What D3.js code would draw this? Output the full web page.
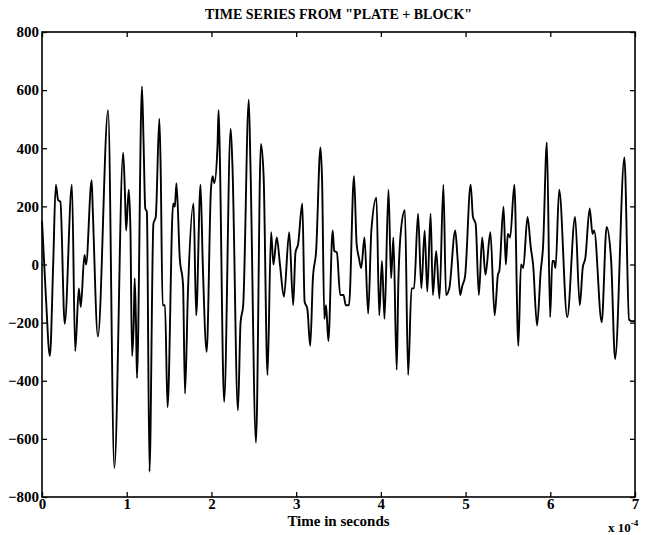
<!DOCTYPE html>
<html>
<head>
<meta charset="utf-8">
<script src="https://cdn.jsdelivr.net/npm/d3@7"></script>
<style>
  html, body { margin: 0; padding: 0; background: #fff; }
  svg { display: block; }
  text { font-family: "Liberation Serif", "DejaVu Serif", serif; fill: #000; }
</style>
</head>
<body>
<svg id="chart" width="648" height="535"></svg>
<script>
// ---- data (time in units of 1e-4 s, amplitude) ----
const chartTitle = 'TIME SERIES FROM "PLATE + BLOCK"';
const xLabel = "Time in seconds";
const xTicks = [0, 1, 2, 3, 4, 5, 6, 7];
const yTicks = [-800, -600, -400, -200, 0, 200, 400, 600, 800];

const seriesTime = [
  0.000, 0.047, 0.093, 0.132, 0.163, 0.190, 0.217, 0.268, 0.353, 0.392,
  0.435, 0.458, 0.501, 0.520, 0.586, 0.598, 0.660, 0.780, 0.854, 0.958,
  0.978, 0.993, 1.024, 1.044, 1.063, 1.083, 1.094, 1.110, 1.121, 1.180,
  1.199, 1.219, 1.238, 1.269, 1.315, 1.343, 1.385, 1.401, 1.424, 1.452,
  1.482, 1.548, 1.568, 1.587, 1.626, 1.665, 1.688, 1.723, 1.789, 1.820,
  1.871, 1.898, 1.944, 1.994, 2.014, 2.034, 2.072, 2.084, 2.095, 2.150,
  2.227, 2.247, 2.313, 2.344, 2.375, 2.441, 2.460, 2.526, 2.584, 2.616,
  2.662, 2.704, 2.732, 2.771, 2.809, 2.856, 2.918, 2.965, 2.992, 3.023,
  3.073, 3.100, 3.132, 3.166, 3.198, 3.236, 3.287, 3.306, 3.333, 3.353,
  3.380, 3.431, 3.450, 3.481, 3.520, 3.559, 3.586, 3.624, 3.683, 3.714,
  3.741, 3.768, 3.807, 3.850, 3.888, 3.948, 3.981, 4.013, 4.043, 4.090,
  4.121, 4.148, 4.187, 4.206, 4.237, 4.284, 4.322, 4.362, 4.392, 4.439,
  4.478, 4.517, 4.548, 4.587, 4.614, 4.653, 4.692, 4.738, 4.769, 4.808,
  4.878, 4.905, 4.936, 4.960, 4.994, 5.060, 5.087, 5.119, 5.157, 5.196,
  5.235, 5.293, 5.343, 5.382, 5.398, 5.448, 5.475, 5.499, 5.526, 5.576,
  5.623, 5.654, 5.681, 5.731, 5.770, 5.797, 5.844, 5.887, 5.914, 5.960,
  5.998, 6.024, 6.043, 6.062, 6.105, 6.200, 6.293, 6.348, 6.383, 6.414,
  6.465, 6.499, 6.518, 6.607, 6.665, 6.718, 6.765, 6.875, 6.930, 6.965,
  7.000
];
const seriesValue = [
   150, -117, -315,    0,  275,  222,  216, -204,  275, -298,
   -82, -146,   33,    0,  290,  199, -248,  531, -700,  385,
   257,  117,  257,  117, -315, -199,  -47, -210, -391,  613,
   420,  193,  181, -713,  140,  164,  502,  327, -140, -140,
  -491,  210,  199,  280,   23,  -70, -444,  -93,  210, -175,
   275,    0, -300,  257,  304,  280,  409,  531,  432, -473,
   467,  350, -502, -199, -140,  567,  350, -613,  415,  304,
  -380,  111,    0,   93,    0, -111,  111, -140,   41,   70,
   210, -128, -152, -280,  -47,   47,  403,  292, -187, -140,
  -263,  117,   47,   41, -105, -105, -140, -140,  304,   70,
    23,  -12,   93, -169,  117,  230, -175,   12, -187,  257,
   -47,   93, -362,  -70,  117,  187, -380,  -82,  -82,  175,
   -82,  117,  -93,  175, -105,   47, -117,  275, -105,  -82,
   117,   23, -105,  -75,  -41,  275,  164,  140, -105,   93,
   -35,  111, -175,  -35,  -23,  199,    0,  105,   93,  275,
  -280,    0,  -12,  164,   58,    0, -210,  -23,   58,  420,
  -181,   12,   12,  -12,  257, -181,  164, -140,  -12,   23,
   193,  105,  117, -199,  129,   15, -325,  368, -190, -195,
  -195
];

// ---- layout ----
const W = 648, H = 535;
const margin = { top: 32, right: 13, bottom: 38, left: 42 };
const iw = W - margin.left - margin.right;
const ih = H - margin.top - margin.bottom;

const svg = d3.select("#chart");
const g = svg.append("g").attr("transform", `translate(${margin.left},${margin.top})`);

const x = d3.scaleLinear().domain([0, 7]).range([0, iw]);
const y = d3.scaleLinear().domain([-800, 800]).range([ih, 0]);

const tickLen = 5;

// axes (inward ticks, MATLAB style)
const axBottom = d3.axisBottom(x).tickValues(xTicks).tickFormat(d3.format("d")).tickSizeInner(-tickLen).tickSizeOuter(0).tickPadding(4);
const axTop = d3.axisTop(x).tickValues(xTicks).tickFormat("").tickSizeInner(-tickLen).tickSizeOuter(0);
const axLeft = d3.axisLeft(y).tickValues(yTicks).tickFormat(d3.format("d")).tickSizeInner(-tickLen).tickSizeOuter(0).tickPadding(6);
const axRight = d3.axisRight(y).tickValues(yTicks).tickFormat("").tickSizeInner(-tickLen).tickSizeOuter(0);

function styleAxis(sel) {
  sel.select(".domain").remove();
  sel.selectAll(".tick line").attr("stroke", "#000").attr("stroke-width", 1.3);
  sel.selectAll(".tick text").attr("font-family", '"Liberation Serif", serif')
     .attr("font-size", 15).attr("font-weight", "bold").attr("fill", "#000");
}

g.append("g").attr("transform", `translate(0,${ih})`).call(axBottom).call(styleAxis)
  .selectAll(".tick text").attr("dy", "0.5em");
g.append("g").call(axTop).call(styleAxis);
g.append("g").call(axLeft).call(styleAxis)
  .selectAll(".tick text").attr("dx", "3");
g.append("g").attr("transform", `translate(${iw},0)`).call(axRight).call(styleAxis);

// frame
g.append("rect").attr("x", 0).attr("y", 0).attr("width", iw).attr("height", ih)
  .attr("fill", "none").attr("stroke", "#000").attr("stroke-width", 1.6);

// series line
const pts = seriesTime.map((t, i) => [t, seriesValue[i]]);
const line = d3.line().x(d => x(d[0])).y(d => y(d[1])).curve(d3.curveMonotoneX);
g.append("path").datum(pts).attr("d", line)
  .attr("fill", "none").attr("stroke", "#000").attr("stroke-width", 1.9)
  .attr("stroke-linejoin", "round");

// title
svg.append("text").attr("x", margin.left + iw / 2).attr("y", 19)
  .attr("text-anchor", "middle").attr("font-size", 14).attr("font-weight", "bold")
  .text(chartTitle);

// x label
svg.append("text").attr("x", margin.left + iw / 2).attr("y", 526)
  .attr("text-anchor", "middle").attr("font-size", 15).attr("font-weight", "bold")
  .text(xLabel);

// exponent note
const ex = svg.append("text").attr("x", 608).attr("y", 532).attr("font-size", 13).attr("font-weight", "bold");
ex.append("tspan").text("x 10");
ex.append("tspan").attr("dy", -6).attr("font-size", 9).text("-4");
</script>
</body>
</html>
